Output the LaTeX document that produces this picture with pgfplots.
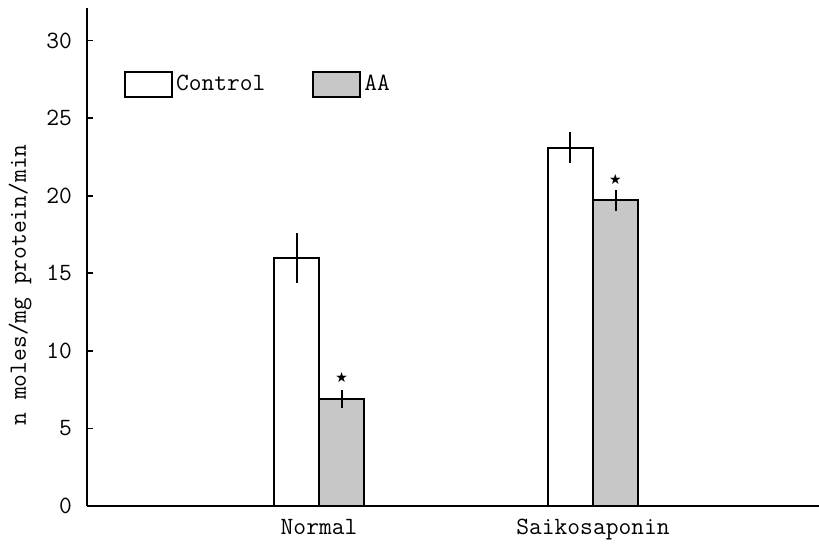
\documentclass[border=0pt]{standalone}
\usepackage{pgfplots}
\pgfplotsset{compat=1.18}
\usepackage{fontspec}
\newfontfamily\symfont{DejaVu Sans}
\begin{document}
\begin{tikzpicture}
\useasboundingbox (-43.5bp,-20bp) rectangle (366bp,253bp);
\begin{axis}[
  at={(0,0)}, anchor=origin,
  scale only axis,
  width=366bp, height=249bp,
  xmin=0.153, xmax=2.825,
  ymin=0, ymax=32.1,
  axis x line=bottom, axis y line=left,
  axis line style={line width=1bp, -},
  ybar=0pt, bar width=22.5bp,
  xtick={1,2}, xticklabels={Normal,Saikosaponin},
  x tick style={draw=none},
  ytick={0,5,...,30},
  tick align=inside,
  major tick length=3bp,
  y tick style={line width=0.8bp, black},
  font=\ttfamily\fontsize{12.4bp}{14bp}\selectfont,
  /pgf/number format/assume math mode=true,
  yticklabel style={xshift=-4bp},
  xticklabel style={yshift=-3bp},
  ylabel={n moles/mg protein/min},
  ylabel style={at={(axis description cs:-0.0915,0.444)}, anchor=center, rotate=0},
  legend style={draw=none, fill=none, at={(axis description cs:0.05,0.847)}, anchor=west,
    legend columns=2, inner sep=0pt, column sep=0pt,
    cells={anchor=west},
    nodes={inner sep=1.5bp},
    /tikz/every even column/.append style={column sep=22bp}},
  legend image code/.code={\draw[#1, line width=1bp] (0bp,-6.25bp) rectangle (23.5bp,6.25bp);},
  error bars/y dir=both, error bars/y explicit,
  error bars/error mark=none,
  error bars/error bar style={line width=1bp, black},
]
\addplot[draw=black, line width=1bp, fill=white] coordinates {
  (1,16.0) +- (0,1.6)
  (2,23.1) +- (0,1.0)
};
\addlegendentry{Control}
\addplot[draw=black, line width=1bp, fill=black!22,
  nodes near coords={\symfont\fontsize{7bp}{8bp}\selectfont ★},
  every node near coord/.append style={anchor=center, yshift=10.5bp, black}] coordinates {
  (1,6.9) +- (0,0.6)
  (2,19.7) +- (0,0.7)
};
\addlegendentry{AA}
\end{axis}
\end{tikzpicture}
\end{document}
